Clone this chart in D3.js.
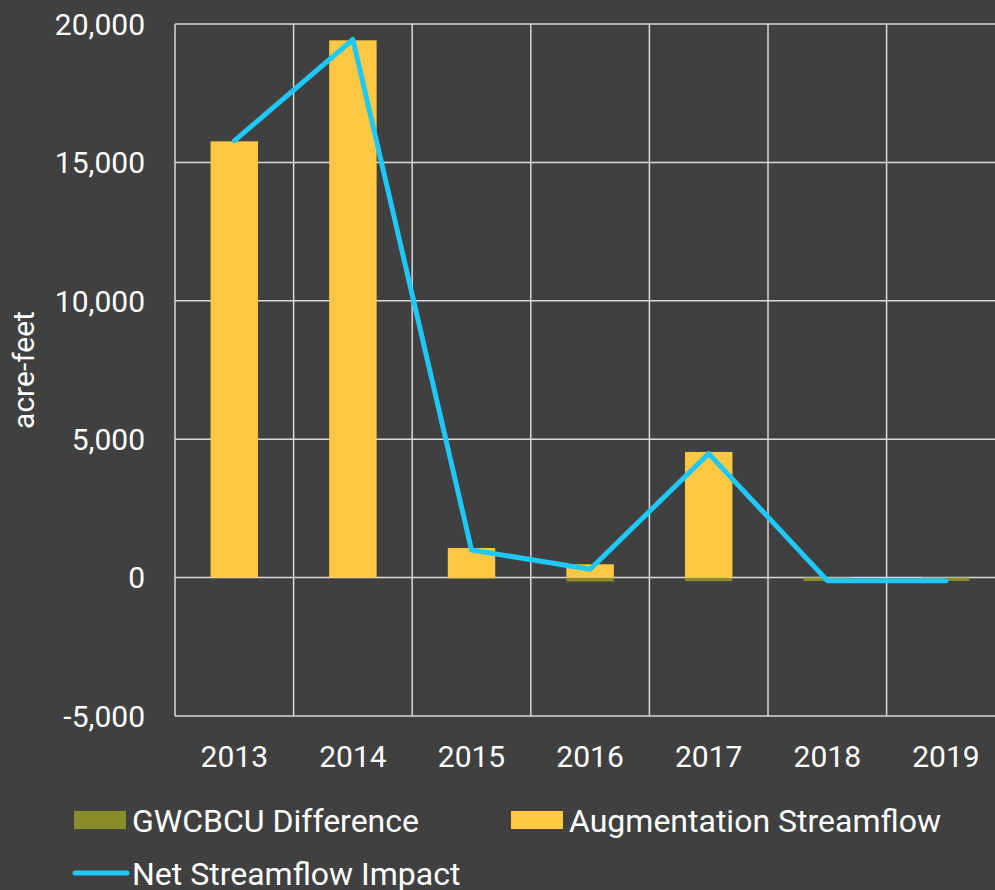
<!DOCTYPE html>
<html>
<head>
<meta charset="utf-8">
<script src="https://cdn.jsdelivr.net/npm/d3@7"></script>
<style>
  html, body { margin: 0; padding: 0; background: #404040; }
  svg { display: block; font-family: Roboto, "Noto Sans", sans-serif; }
  .grid line { stroke: #d9d9d9; stroke-width: 1.5; }
  .tick-label, .legend text, .y-title { fill: #ffffff; }
</style>
</head>
<body>
<svg class="chart" width="995" height="890"></svg>
<script>
(function () {
  "use strict";

  const years = ["2013", "2014", "2015", "2016", "2017", "2018", "2019"];
  const augmentation = [15760, 19410, 1070, 480, 4540, 0, 0];
  const gwcbcuDiff = [0, 0, -50, -140, -130, -120, -120];
  const netImpact = [15780, 19440, 1000, 300, 4480, -110, -110];
  const yTicks = [-5000, 0, 5000, 10000, 15000, 20000];

  const colors = { diff: "#8a8c28", aug: "#ffc843", net: "#1ec8f8" };

  const svg = d3.select(".chart");
  const left = 175, top = 24, bottom = 716;
  const step = 118.6;

  const x = d3.scaleBand()
    .domain(years)
    .range([left, left + step * years.length])
    .padding(0);
  const y = d3.scaleLinear().domain([-5000, 20000]).range([bottom, top]);
  const barW = x.bandwidth() * 0.4;
  const fmt = d => d3.format(",")(d).replace("\u2212", "-");

  // grid
  const grid = svg.append("g").attr("class", "grid");
  grid.selectAll("line.h")
    .data(yTicks)
    .join("line")
    .attr("class", "h")
    .attr("x1", left).attr("x2", 995)
    .attr("y1", d => y(d)).attr("y2", d => y(d));
  grid.selectAll("line.v")
    .data(years.concat(["end"]))
    .join("line")
    .attr("class", "v")
    .attr("x1", (d, i) => left + i * x.step())
    .attr("x2", (d, i) => left + i * x.step())
    .attr("y1", top).attr("y2", bottom);

  // y labels
  svg.append("g").selectAll("text")
    .data(yTicks)
    .join("text")
    .attr("class", "tick-label")
    .attr("x", 145)
    .attr("y", d => y(d))
    .attr("dy", "0.36em")
    .attr("text-anchor", "end")
    .style("font-size", "30px")
    .text(d => fmt(d));

  svg.append("text")
    .attr("class", "y-title")
    .attr("transform", "translate(34,370) rotate(-90)")
    .attr("text-anchor", "middle")
    .style("font-size", "30px")
    .text("acre-feet");

  // x labels
  svg.append("g").selectAll("text")
    .data(years)
    .join("text")
    .attr("class", "tick-label")
    .attr("x", d => x(d) + x.bandwidth() / 2)
    .attr("y", 767)
    .attr("text-anchor", "middle")
    .style("font-size", "30px")
    .text(d => d);

  const rows = years.map((yr, i) => ({ year: yr, aug: augmentation[i], diff: gwcbcuDiff[i], net: netImpact[i] }));

  // bars (stacked: positives up, negatives down)
  svg.append("g").selectAll("rect")
    .data(rows.filter(d => d.diff !== 0))
    .join("rect")
    .attr("x", d => x(d.year) + (x.bandwidth() - barW) / 2)
    .attr("width", barW)
    .attr("y", y(0))
    .attr("height", d => y(d.diff) - y(0))
    .attr("fill", colors.diff);

  svg.append("g").selectAll("rect")
    .data(rows.filter(d => d.aug !== 0))
    .join("rect")
    .attr("x", d => x(d.year) + (x.bandwidth() - barW) / 2)
    .attr("width", barW)
    .attr("y", d => y(d.aug))
    .attr("height", d => y(0) - y(d.aug))
    .attr("fill", colors.aug);

  // line
  const line = d3.line()
    .x(d => x(d.year) + x.bandwidth() / 2)
    .y(d => y(d.net));
  svg.append("path")
    .datum(rows)
    .attr("d", line)
    .attr("fill", "none")
    .attr("stroke", colors.net)
    .attr("stroke-width", 5)
    .attr("stroke-linecap", "round")
    .attr("stroke-linejoin", "round");

  // legend
  const legend = svg.append("g").attr("class", "legend").style("font-size", "32px");
  const items = [
    { label: "GWCBCU Difference", type: "rect", color: colors.diff, x: 74, y: 820 },
    { label: "Augmentation Streamflow", type: "rect", color: colors.aug, x: 511, y: 820 },
    { label: "Net Streamflow Impact", type: "line", color: colors.net, x: 74, y: 873 }
  ];
  items.forEach(it => {
    const g = legend.append("g").attr("transform", `translate(${it.x},${it.y})`);
    if (it.type === "rect") {
      g.append("rect").attr("x", 0).attr("y", -9).attr("width", 52).attr("height", 18).attr("fill", it.color);
    } else {
      g.append("line").attr("x1", 1).attr("x2", 53).attr("y1", 0).attr("y2", 0)
        .attr("stroke", it.color).attr("stroke-width", 5).attr("stroke-linecap", "round");
    }
    g.append("text").attr("x", 58).attr("y", 0).attr("dy", "0.36em").text(it.label);
  });
})();
</script>
</body>
</html>
